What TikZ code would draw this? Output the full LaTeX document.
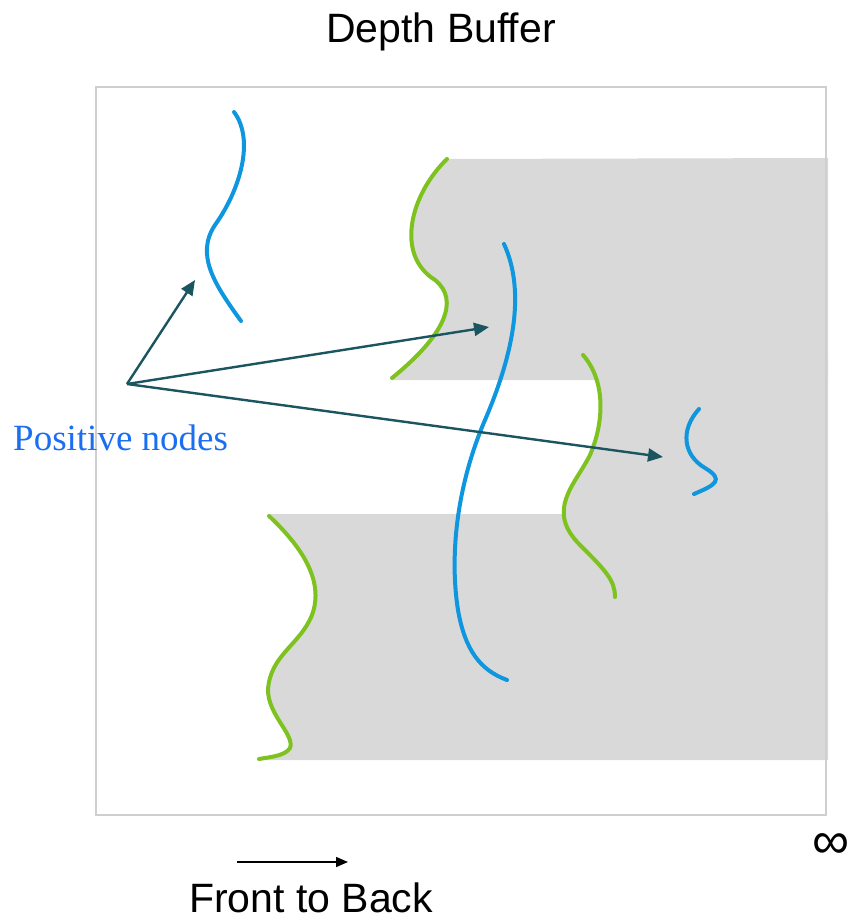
\documentclass[tikz,border=0pt]{standalone}
\usepackage{fontspec}
\setmainfont{Liberation Serif}
\setsansfont{Liberation Sans}
\usetikzlibrary{arrows.meta}
\definecolor{fillgray}{HTML}{D9D9D9}
\definecolor{framegray}{HTML}{CFCFCF}
\definecolor{leafgreen}{HTML}{7DC21E}
\definecolor{nodeblue}{HTML}{0E96DE}
\definecolor{tealarrow}{HTML}{1A5560}
\definecolor{labelblue}{HTML}{1A6EF2}
\tikzset{
  greencurve/.style={draw=leafgreen,line width=4pt,line cap=round},
  bluecurve/.style={draw=nodeblue,line width=4pt,line cap=round},
  pointer/.style={draw=tealarrow,line width=2.4pt,-{Triangle[length=15pt,width=13pt]}},
  bigsans/.style={font=\sffamily\fontsize{41}{41}\selectfont,anchor=base,inner sep=0pt}
}
\begin{document}
\begin{tikzpicture}[x=1pt,y=-1pt]
\useasboundingbox (0,0) rectangle (852,923);
% gray regions
\fill[fillgray] (447,159) .. controls (410,195) and (395,255) .. (435,280)
   .. controls (460,300) and (445,335) .. (392,380) -- (828,380) -- (828,158) -- cycle;
\fill[fillgray] (583,355) .. controls (605,380) and (605,420) .. (590,455)
   .. controls (575,485) and (545,510) .. (580,545)
   .. controls (605,570) and (615,580) .. (615,597) -- (828,597) -- (828,355) -- cycle;
\fill[fillgray] (269,514) .. controls (300,545) and (325,580) .. (312,615)
   .. controls (300,645) and (270,655) .. (268,690)
   .. controls (268,715) and (295,735) .. (290,748)
   .. controls (285,756) and (270,760) .. (259,760) -- (828,760) -- (828,514) -- cycle;
% frame
\draw[framegray,line width=1.5pt] (96,87) rectangle (826,815);
% green curves
\draw[greencurve] (447,159) .. controls (410,195) and (395,255) .. (435,280)
   .. controls (460,300) and (445,335) .. (392,378);
\draw[greencurve] (583,355) .. controls (605,380) and (605,420) .. (590,455)
   .. controls (575,485) and (545,510) .. (580,545)
   .. controls (605,570) and (615,580) .. (615,597);
\draw[greencurve] (269,516) .. controls (300,545) and (325,580) .. (312,615)
   .. controls (300,645) and (270,655) .. (268,690)
   .. controls (268,715) and (295,735) .. (290,748)
   .. controls (285,756) and (270,757) .. (259,759);
% blue curves
\draw[bluecurve] (234,112) .. controls (255,140) and (240,190) .. (215,225)
   .. controls (195,255) and (215,285) .. (241,321);
\draw[bluecurve] (504,244) .. controls (525,290) and (515,350) .. (485,420)
   .. controls (455,490) and (450,560) .. (458,610)
   .. controls (465,650) and (480,670) .. (507,680);
\draw[bluecurve] (699,409) .. controls (680,430) and (683,455) .. (705,468)
   .. controls (725,480) and (715,485) .. (694,494);
% pointers
\coordinate (o) at (127,384);
\coordinate (t1) at (195,280);
\coordinate (t2) at (489,327);
\coordinate (t3) at (663,457);
\draw[pointer] (o) -- (t1);
\draw[pointer] (o) -- (t2);
\draw[pointer] (o) -- (t3);
\node[anchor=base west,inner sep=0pt,text=labelblue,font=\fontsize{37}{37}\selectfont] (lbl) at (13,450) {Positive nodes};
% texts
\node[bigsans] (title) at (441,43) {Depth Buffer};
\node[bigsans] (ftb) at (311,912) {Front to Back};
\coordinate (a0) at (237,862);
\coordinate (a1) at (348,862);
\draw[black,line width=1.6pt,-{Triangle[length=12pt,width=10pt]}] (a0) -- (a1);
\node[font=\sffamily\fontsize{52}{52}\selectfont,inner sep=0pt] (inf) at (831,846) {∞};
\end{tikzpicture}
\end{document}
